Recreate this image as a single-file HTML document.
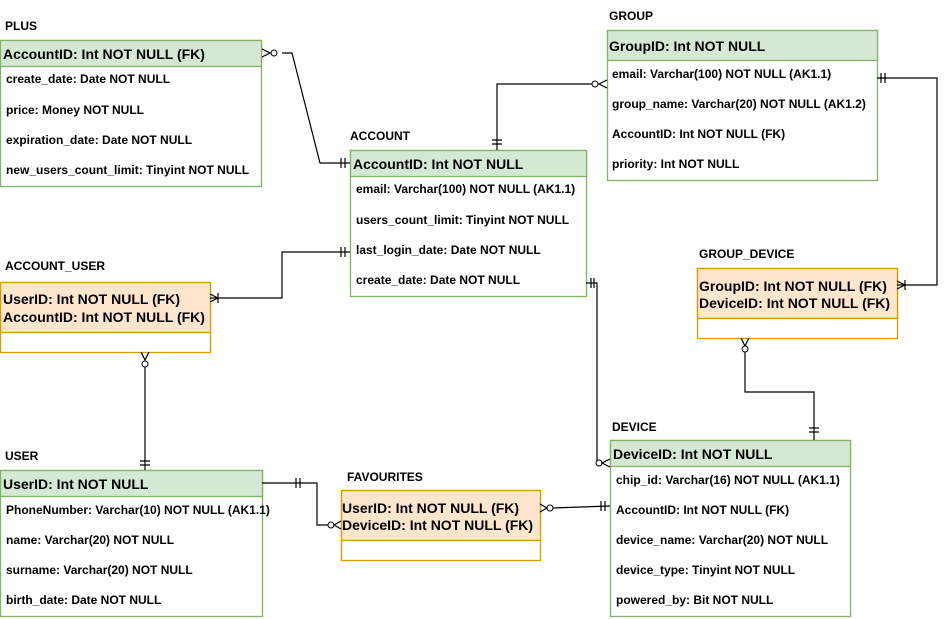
<!DOCTYPE html>
<html><head><meta charset="utf-8"><style>
html,body{margin:0;padding:0;background:#fff}
svg{display:block}
text{font-family:"Liberation Sans",sans-serif;font-weight:bold;fill:#000}
.t{font-size:12px}
.h{font-size:14px}
.r{font-size:12px}
.g{fill:#d5e8d4;stroke:#82b366;stroke-width:1.3}
.gw{fill:#fff;stroke:#82b366;stroke-width:1.3}
.o{fill:#ffe6cc;stroke:#d79b00;stroke-width:1.3}
.ow{fill:#fff;stroke:#d79b00;stroke-width:1.3}
.l{fill:none;stroke:#000;stroke-width:1.2}
.c{fill:#fff;stroke:#000;stroke-width:1}
</style></head><body>
<svg width="946" height="619" viewBox="0 0 946 619" xmlns="http://www.w3.org/2000/svg">
<!-- PLUS -->
<text class="t" x="5" y="30">PLUS</text>
<rect class="gw" x="0.5" y="40.5" width="261" height="146"/>
<rect class="g" x="0.5" y="40.5" width="261" height="26"/>
<text class="h" x="3" y="59">AccountID: Int NOT NULL (FK)</text>
<text class="r" x="6" y="83">create_date: Date NOT NULL</text>
<text class="r" x="6" y="114">price: Money NOT NULL</text>
<text class="r" x="6" y="144">expiration_date: Date NOT NULL</text>
<text class="r" x="6" y="174">new_users_count_limit: Tinyint NOT NULL</text>

<!-- ACCOUNT -->
<text class="t" x="350" y="140">ACCOUNT</text>
<rect class="gw" x="350.5" y="150.5" width="236" height="146"/>
<rect class="g" x="350.5" y="150.5" width="236" height="26"/>
<text class="h" x="353" y="169">AccountID: Int NOT NULL</text>
<text class="r" x="356" y="193">email: Varchar(100) NOT NULL (AK1.1)</text>
<text class="r" x="356" y="224">users_count_limit: Tinyint NOT NULL</text>
<text class="r" x="356" y="254">last_login_date: Date NOT NULL</text>
<text class="r" x="356" y="284">create_date: Date NOT NULL</text>

<!-- GROUP -->
<text class="t" x="609" y="20">GROUP</text>
<rect class="gw" x="607.5" y="30.5" width="270" height="150"/>
<rect class="g" x="607.5" y="30.5" width="270" height="30"/>
<text class="h" x="609" y="51">GroupID: Int NOT NULL</text>
<text class="r" x="612" y="78">email: Varchar(100) NOT NULL (AK1.1)</text>
<text class="r" x="612" y="108">group_name: Varchar(20) NOT NULL (AK1.2)</text>
<text class="r" x="612" y="138">AccountID: Int NOT NULL (FK)</text>
<text class="r" x="612" y="168">priority: Int NOT NULL</text>

<!-- ACCOUNT_USER -->
<text class="t" x="5" y="270">ACCOUNT_USER</text>
<rect class="ow" x="0.5" y="282.5" width="210" height="70"/>
<rect class="o" x="0.5" y="282.5" width="210" height="50"/>
<text class="h" x="3" y="304">UserID: Int NOT NULL (FK)</text>
<text class="h" x="3" y="322">AccountID: Int NOT NULL (FK)</text>

<!-- GROUP_DEVICE -->
<text class="t" x="699" y="258">GROUP_DEVICE</text>
<rect class="ow" x="697.5" y="268.5" width="200" height="70"/>
<rect class="o" x="697.5" y="268.5" width="200" height="50"/>
<text class="h" x="699" y="291">GroupID: Int NOT NULL (FK)</text>
<text class="h" x="699" y="308">DeviceID: Int NOT NULL (FK)</text>

<!-- USER -->
<text class="t" x="5" y="460">USER</text>
<rect class="gw" x="0.5" y="470.5" width="262" height="146"/>
<rect class="g" x="0.5" y="470.5" width="262" height="26"/>
<text class="h" x="3" y="489">UserID: Int NOT NULL</text>
<text class="r" x="6" y="514">PhoneNumber: Varchar(10) NOT NULL (AK1.1)</text>
<text class="r" x="6" y="544">name: Varchar(20) NOT NULL</text>
<text class="r" x="6" y="574">surname: Varchar(20) NOT NULL</text>
<text class="r" x="6" y="604">birth_date: Date NOT NULL</text>

<!-- FAVOURITES -->
<text class="t" x="347" y="481">FAVOURITES</text>
<rect class="ow" x="341.5" y="490.5" width="199" height="70"/>
<rect class="o" x="341.5" y="490.5" width="199" height="50"/>
<text class="h" x="342" y="513">UserID: Int NOT NULL (FK)</text>
<text class="h" x="342" y="530">DeviceID: Int NOT NULL (FK)</text>

<!-- DEVICE -->
<text class="t" x="612" y="431">DEVICE</text>
<rect class="gw" x="610.5" y="440.5" width="240" height="176"/>
<rect class="g" x="610.5" y="440.5" width="240" height="26"/>
<text class="h" x="613" y="459">DeviceID: Int NOT NULL</text>
<text class="r" x="616" y="484">chip_id: Varchar(16) NOT NULL (AK1.1)</text>
<text class="r" x="616" y="514">AccountID: Int NOT NULL (FK)</text>
<text class="r" x="616" y="544">device_name: Varchar(20) NOT NULL</text>
<text class="r" x="616" y="574">device_type: Tinyint NOT NULL</text>
<text class="r" x="616" y="604">powered_by: Bit NOT NULL</text>

<!-- Connectors -->
<!-- PLUS - ACCOUNT -->
<polyline class="l" points="282,53 292,53 320,163 350,163"/>
<path class="l" d="M262,49 L270,53 L262,57"/>
<circle class="c" cx="274" cy="53" r="3"/>
<path class="l" d="M341,158v10M345,158v10"/>

<!-- ACCOUNT - GROUP -->
<polyline class="l" points="497,150 497,84 592,84"/>
<path class="l" d="M492,140h10M492,144h10"/>
<circle class="c" cx="595" cy="84" r="3"/>
<path class="l" d="M607,80 L599,84 L607,88"/>

<!-- GROUP - GROUP_DEVICE -->
<polyline class="l" points="877,78 937,78 937,285 897,285"/>
<path class="l" d="M881,73v10M885,73v10"/>
<path class="l" d="M897,281 L905,285 L897,289 M905,280v10"/>

<!-- ACCOUNT - ACCOUNT_USER -->
<polyline class="l" points="350,252 282,252 282,298 210,298"/>
<path class="l" d="M341,247v10M345,247v10"/>
<path class="l" d="M210,294 L218,298 L210,302 M218,293v10"/>

<!-- ACCOUNT_USER - USER -->
<polyline class="l" points="145,365 145,470"/>
<path class="l" d="M141,352 L145,360 L149,352"/>
<circle class="c" cx="145" cy="364" r="3"/>
<path class="l" d="M140,461h10M140,465h10"/>

<!-- ACCOUNT - DEVICE -->
<polyline class="l" points="586,283 597,283 597,463 603,463"/>
<path class="l" d="M591,278v10M594,278v10"/>
<circle class="c" cx="599" cy="463" r="3"/>
<path class="l" d="M610,459 L602,463 L610,467"/>

<!-- GROUP_DEVICE - DEVICE -->
<polyline class="l" points="745,350 745,392 814,392 814,440"/>
<path class="l" d="M741,338 L745,346 L749,338"/>
<circle class="c" cx="745" cy="349" r="3"/>
<path class="l" d="M809,428h10M809,432h10"/>

<!-- USER - FAVOURITES -->
<polyline class="l" points="262,483 317,483 317,525 328,525"/>
<path class="l" d="M296,478v10M300,478v10"/>
<circle class="c" cx="331" cy="525" r="3"/>
<path class="l" d="M341,521 L334,525 L341,529"/>

<!-- FAVOURITES - DEVICE -->
<line class="l" x1="552" y1="508" x2="610" y2="506"/>
<path class="l" d="M540,504 L547,508 L540,512"/>
<circle class="c" cx="550" cy="508" r="3"/>
<path class="l" d="M601,501v10M605,501v10"/>
</svg>
</body></html>
